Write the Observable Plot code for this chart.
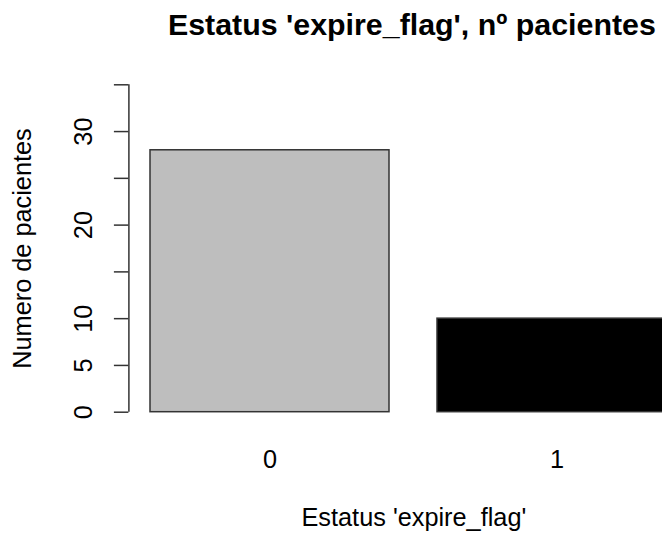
<!DOCTYPE html>
<html>
<head>
<meta charset="utf-8">
<script src="https://cdn.jsdelivr.net/npm/d3@7"></script>
<script src="https://cdn.jsdelivr.net/npm/@observablehq/plot@0.6"></script>
<style>
  html, body { margin: 0; padding: 0; background: white; overflow: hidden; }
  #wrap { width: 662px; height: 533px; overflow: hidden; position: relative; }
  #wrap svg { max-width: none !important; }
</style>
</head>
<body>
<div id="wrap"></div>
<script>
// ---- data ----
const categories = ["0", "1"];
const counts = [28, 10];
const yTicks = [0, 5, 10, 15, 20, 25, 30, 35];
const yTickLabels = [0, 5, 10, 20, 30];
const titleText = "Estatus 'expire_flag', nº pacientes";
const xLabelText = "Estatus 'expire_flag'";
const yLabelText = "Numero de pacientes";

// ---- styles / layout ----
const fills = ["#bebebe", "#000000"];
const ink = "#333333";
const W = 827, mL = 128.4, mR = 128.6;
const fs = 25.3;

const rows = categories.map((c, i) => ({cat: c, n: counts[i], fill: fills[i]}));

const chart = Plot.plot({
  width: W,
  height: 533,
  marginLeft: mL,
  marginRight: mR,
  marginTop: 84.3,
  marginBottom: 121.3,
  style: {fontFamily: "'Liberation Sans', Arial, sans-serif", fontSize: fs + "px", background: "white", color: "black", maxWidth: "none"},
  x: {type: "band", domain: categories, paddingInner: 1/6, paddingOuter: 0.0733, align: 0.5, axis: null},
  y: {domain: [0, 35], axis: null},
  marks: [
    Plot.barY(rows, {x: "cat", y: "n", fill: "fill", stroke: ink, strokeWidth: 1.5}),
    Plot.axisY({ticks: yTicks, tickSize: 14.5, tickFormat: () => "", stroke: ink, strokeWidth: 1.5, label: null}),
    Plot.ruleX([0], {x: null, y1: yTicks[0], y2: yTicks[yTicks.length - 1], dx: mL - (mL + W - mR) / 2, stroke: ink, strokeWidth: 1.5}),
    Plot.text(yTickLabels, {y: d => d, text: d => String(d), frameAnchor: "left", textAnchor: "middle", rotate: -90, dx: -45, fontSize: fs, fill: "black"}),
    Plot.text(categories, {x: d => d, text: d => d, frameAnchor: "bottom", lineAnchor: "bottom", dy: 55.3, fontSize: fs, fill: "black"}),
    Plot.text([xLabelText], {frameAnchor: "bottom", lineAnchor: "bottom", dy: 113.5, fontSize: fs, fill: "black"}),
    Plot.text([yLabelText], {frameAnchor: "left", textAnchor: "middle", rotate: -90, dx: -106, fontSize: fs, fill: "black"}),
    Plot.text([titleText], {frameAnchor: "top", lineAnchor: "bottom", dx: -2, dy: -50, fontSize: fs * 1.2, fontWeight: "bold", fill: "black"})
  ]
});
document.getElementById("wrap").appendChild(chart);
</script>
</body>
</html>
